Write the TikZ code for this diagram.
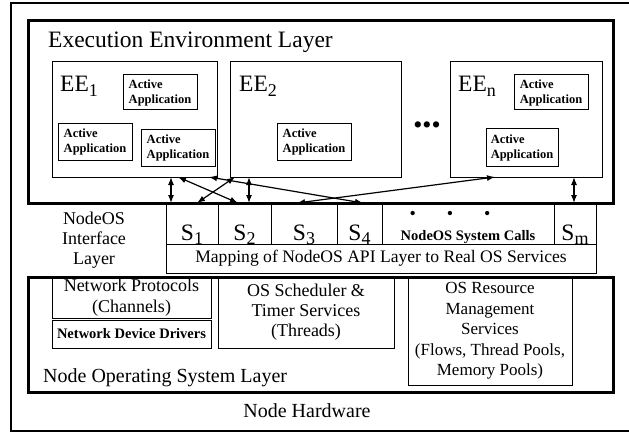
\documentclass[tikz,border=0pt]{standalone}
\usepackage{fontspec}
\setmainfont{Liberation Serif}
\usetikzlibrary{arrows.meta}
\newcommand\fs[2]{\fontsize{#1}{#2}\selectfont}
\newcommand\subs[1]{\raisebox{-4.5pt}{\fontsize{18}{18}\selectfont #1}}
\tikzset{
  outerbox/.style={draw=black, line width=1.3pt, inner sep=0pt, outer sep=0pt, anchor=north west},
  layerbox/.style={draw=black, line width=3pt, inner sep=0pt, outer sep=0pt, anchor=north west},
  pbox/.style={draw=black, line width=1pt, inner sep=0pt, outer sep=0pt, anchor=north west, align=center, font=\fs{18}{20.5}},
  appbox/.style={pbox, align=left, font=\bfseries\fs{12.5}{15}},
  big/.style={inner sep=0pt, font=\fs{23.5}{26}},
  lab/.style={inner sep=0pt, align=center, font=\fs{18}{19.5}},
  link/.style={draw=black, line width=1.2pt, {Latex[length=8pt,width=6pt]}-{Latex[length=8pt,width=6pt]}},
}
\begin{document}
\begin{tikzpicture}[x=1pt,y=-1pt]
  \useasboundingbox (0,0) rectangle (629,433);
  \node[outerbox, minimum width=640pt, minimum height=428pt] (hw) at (11,3) {};
  \node[lab, font=\fs{20}{22}, anchor=base] (hwlab) at (307,417) {Node Hardware};

  % execution environment layer
  \node[layerbox, minimum width=585pt, minimum height=182pt] (eel) at (28,21) {};
  \node[big, anchor=base west] (eeltitle) at (48,48) {Execution Environment Layer};
  \node[pbox, minimum width=165pt, minimum height=115pt] (ee1) at (52,62) {};
  \node[pbox, minimum width=171pt, minimum height=115pt] (ee2) at (230,62) {};
  \node[pbox, minimum width=152pt, minimum height=115pt] (een) at (450,62) {};
  \node[big, anchor=base west] (ee1lab) at (60,92) {EE\subs{1}};
  \node[big, anchor=base west] (ee2lab) at (239,92) {EE\subs{2}};
  \node[big, anchor=base west] (eenlab) at (458,92) {EE\subs{n}};
  \node[inner sep=0pt, font=\fs{26}{26}] (eedots) at (427,128) {•••};
  \node[appbox, minimum width=74pt, minimum height=35pt] (app1) at (123,75) {Active\\Application};
  \node[appbox, minimum width=74pt, minimum height=36pt] (app2) at (58,124) {Active\\Application};
  \node[appbox, minimum width=74pt, minimum height=36pt] (app3) at (141,130) {Active\\Application};
  \node[appbox, minimum width=74pt, minimum height=36pt] (app4) at (277,124) {Active\\Application};
  \node[appbox, minimum width=74pt, minimum height=35pt] (app5) at (514,75) {Active\\Application};
  \node[appbox, minimum width=72pt, minimum height=37pt] (app6) at (486,129) {Active\\Application};

  % nodeos interface layer
  \node[lab, font=\fs{18}{20}] (ifacelab) at (94,240) {NodeOS\\Interface\\Layer};
  \node[pbox, minimum width=52pt, minimum height=41pt] (s1) at (166,203) {};
  \node[pbox, minimum width=53pt, minimum height=41pt] (s2) at (218,203) {};
  \node[pbox, minimum width=66pt, minimum height=41pt] (s3) at (271,203) {};
  \node[pbox, minimum width=45pt, minimum height=41pt] (s4) at (337,203) {};
  \node[pbox, minimum width=172pt, minimum height=41pt] (calls) at (382,203) {};
  \node[pbox, minimum width=42pt, minimum height=41pt] (sm) at (554,203) {};
  \foreach \s/\t in {s1/1, s2/2, s3/3, s4/4, sm/m}
    \node[big, anchor=base] (\s lab) at ([yshift=4pt]\s.south) {S\subs{\t}};
  \node[inner sep=0pt, font=\bfseries\fs{14.5}{16}, anchor=base] (callslab) at ([yshift=4pt]calls.south) {NodeOS System Calls};
  \node[inner sep=0pt, font=\fs{18}{18}] (callsdots) at (450,215) {•\hspace{31pt}•\hspace{31pt}•};
  \node[pbox, minimum width=430pt, minimum height=29pt, font=\fs{17.6}{20}] (mapping) at (166,244) {Mapping of NodeOS API Layer to Real OS Services};

  % node operating system layer
  \node[layerbox, minimum width=585pt, minimum height=115pt] (osl) at (28,277) {};
  \node[pbox, minimum width=159pt, minimum height=41pt, font=\fs{18}{21}] (netproto) at (52,277) {Network Protocols\\(Channels)};
  \node[pbox, minimum width=159pt, minimum height=28pt, font=\bfseries\fs{14.5}{16}] (netdrv) at (52,320) {Network Device Drivers};
  \node[pbox, minimum width=176pt, minimum height=71pt, font=\fs{18}{20}] (sched) at (218,277) {OS Scheduler \&\\Timer Services\\(Threads)};
  \node[pbox, minimum width=164pt, minimum height=108pt, font=\fs{17}{20.5}] (resmgmt) at (408,277) {OS Resource\\Management\\Services\\(Flows, Thread Pools,\\Memory Pools)};
  \node[lab, font=\fs{20}{22}, anchor=base west] (osllab) at (43,382) {Node Operating System Layer};

  % calls between environments and interface
  \coordinate (v1t) at (171,0 |- ee1.south);
  \coordinate (v1b) at (171,0 |- s1.north);
  \coordinate (v2t) at (249,0 |- ee2.south);
  \coordinate (v2b) at (249,0 |- s2.north);
  \coordinate (v3t) at (574,0 |- een.south);
  \coordinate (v3b) at (574,0 |- sm.north);
  \coordinate (at) at (178,0 |- ee1.south);
  \coordinate (ab) at (238,0 |- s2.north);
  \coordinate (bt) at (235,0 |- ee2.south);
  \coordinate (bb) at (197,0 |- s1.north);
  \coordinate (ct) at (209,0 |- ee1.south);
  \coordinate (cb) at (363,0 |- s4.north);
  \coordinate (dt) at (495,0 |- een.south);
  \coordinate (db) at (297,0 |- s3.north);
  \draw[link] (v1t) -- (v1b);
  \draw[link] (v2t) -- (v2b);
  \draw[link] (v3t) -- (v3b);
  \draw[link] (at) -- (ab);
  \draw[link] (bb) -- (bt);
  \draw[link] (ct) -- (cb);
  \draw[link] (db) -- (dt);
\end{tikzpicture}
\end{document}
